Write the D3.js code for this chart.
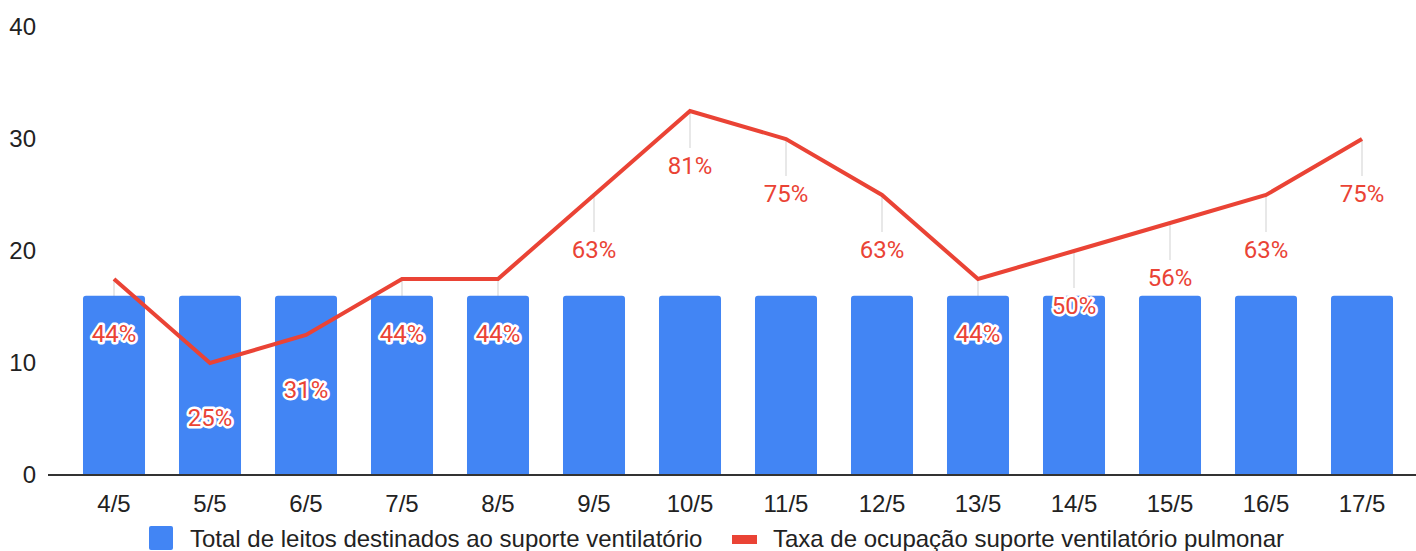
<!DOCTYPE html>
<html>
<head>
<meta charset="utf-8">
<script src="https://cdn.jsdelivr.net/npm/d3@7"></script>
<style>
  html, body { margin: 0; padding: 0; background: #fff; }
  svg { display: block; }
</style>
</head>
<body>
<svg id="chart" width="1416" height="551"></svg>
<script>
const categories = ["4/5","5/5","6/5","7/5","8/5","9/5","10/5","11/5","12/5","13/5","14/5","15/5","16/5","17/5"];
const totalBeds = [16,16,16,16,16,16,16,16,16,16,16,16,16,16];
const occupancyPct = [43.75,25,31.25,43.75,43.75,62.5,81.25,75,62.5,43.75,50,56.25,62.5,75];
const yTicks = [0,10,20,30,40];
const seriesNames = ["Total de leitos destinados ao suporte ventilatório","Taxa de ocupação suporte ventilatório pulmonar"];

const BLUE = "#4285f4", RED = "#ea4335";
const svg = d3.select("#chart");

const x = d3.scaleBand().domain(categories).range([66, 1410]).paddingInner(0.354).paddingOuter(0.177);
const y = d3.scaleLinear().domain([0, 40]).range([475, 27]);
const yPct = d3.scaleLinear().domain([0, 100]).range([475, 27]);
const cx = c => x(c) + x.bandwidth() / 2;

// y axis labels
const yAxis = d3.axisLeft(y).tickValues(yTicks).tickSize(0).tickPadding(0).tickFormat(d3.format("d"));
const gy = svg.append("g").attr("transform", "translate(36,0)").call(yAxis);
gy.select(".domain").remove();
gy.selectAll("text").attr("font-family", "Arial, 'Liberation Sans', sans-serif").attr("font-size", 24).attr("fill", "#222");

// leader lines (behind bars)
svg.append("g").selectAll("line").data(categories).join("line")
  .attr("x1", cx).attr("x2", cx)
  .attr("y1", (c, i) => yPct(occupancyPct[i]))
  .attr("y2", (c, i) => yPct(occupancyPct[i]) + 37)
  .attr("stroke", "#e0e0e0").attr("stroke-width", 1.5);

// bars with slightly rounded top
const r = 3;
svg.append("g").selectAll("path").data(categories).join("path")
  .attr("fill", BLUE)
  .attr("d", (c, i) => {
    const x0 = x(c), w = x.bandwidth(), yt = y(totalBeds[i]), yb = y(0);
    return `M${x0},${yb}V${yt + r}Q${x0},${yt} ${x0 + r},${yt}H${x0 + w - r}Q${x0 + w},${yt} ${x0 + w},${yt + r}V${yb}Z`;
  });

// x axis
const xAxis = d3.axisBottom(x).tickSize(0).tickPadding(0);
const gx = svg.append("g").attr("transform", "translate(0,475)").call(xAxis);
gx.select(".domain").remove();
gx.selectAll("text").attr("font-family", "Arial, 'Liberation Sans', sans-serif").attr("font-size", 24).attr("fill", "#222")
  .attr("dy", null).attr("y", 37);
svg.append("line").attr("x1", 48).attr("x2", 1416).attr("y1", y(0)).attr("y2", y(0))
  .attr("stroke", "#333").attr("stroke-width", 2);

// line
const line = d3.line().x((d, i) => cx(categories[i])).y(d => yPct(d));
svg.append("path").datum(occupancyPct).attr("d", line)
  .attr("fill", "none").attr("stroke", RED).attr("stroke-width", 4).attr("stroke-linejoin", "miter");

// annotation labels
svg.append("g").selectAll("text").data(categories).join("text")
  .attr("x", cx)
  .attr("y", (c, i) => yPct(occupancyPct[i]) + 63)
  .attr("text-anchor", "middle")
  .attr("font-family", "Roboto, Arial, sans-serif").attr("font-size", 24)
  .attr("fill", RED).attr("stroke", "#fff").attr("stroke-width", 5)
  .attr("stroke-linejoin", "round").attr("paint-order", "stroke")
  .text((c, i) => Math.round(occupancyPct[i]) + "%");

// legend
const lg = svg.append("g").attr("font-family", "Arial, 'Liberation Sans', sans-serif").attr("font-size", 24).attr("fill", "#222");
lg.append("rect").attr("x", 149).attr("y", 526).attr("width", 24).attr("height", 24).attr("rx", 2).attr("fill", BLUE);
lg.append("text").attr("x", 190).attr("y", 547).text(seriesNames[0]);
lg.append("rect").attr("x", 732).attr("y", 535).attr("width", 25).attr("height", 9).attr("fill", RED);
lg.append("text").attr("x", 773).attr("y", 547).text(seriesNames[1]);
</script>
</body>
</html>
